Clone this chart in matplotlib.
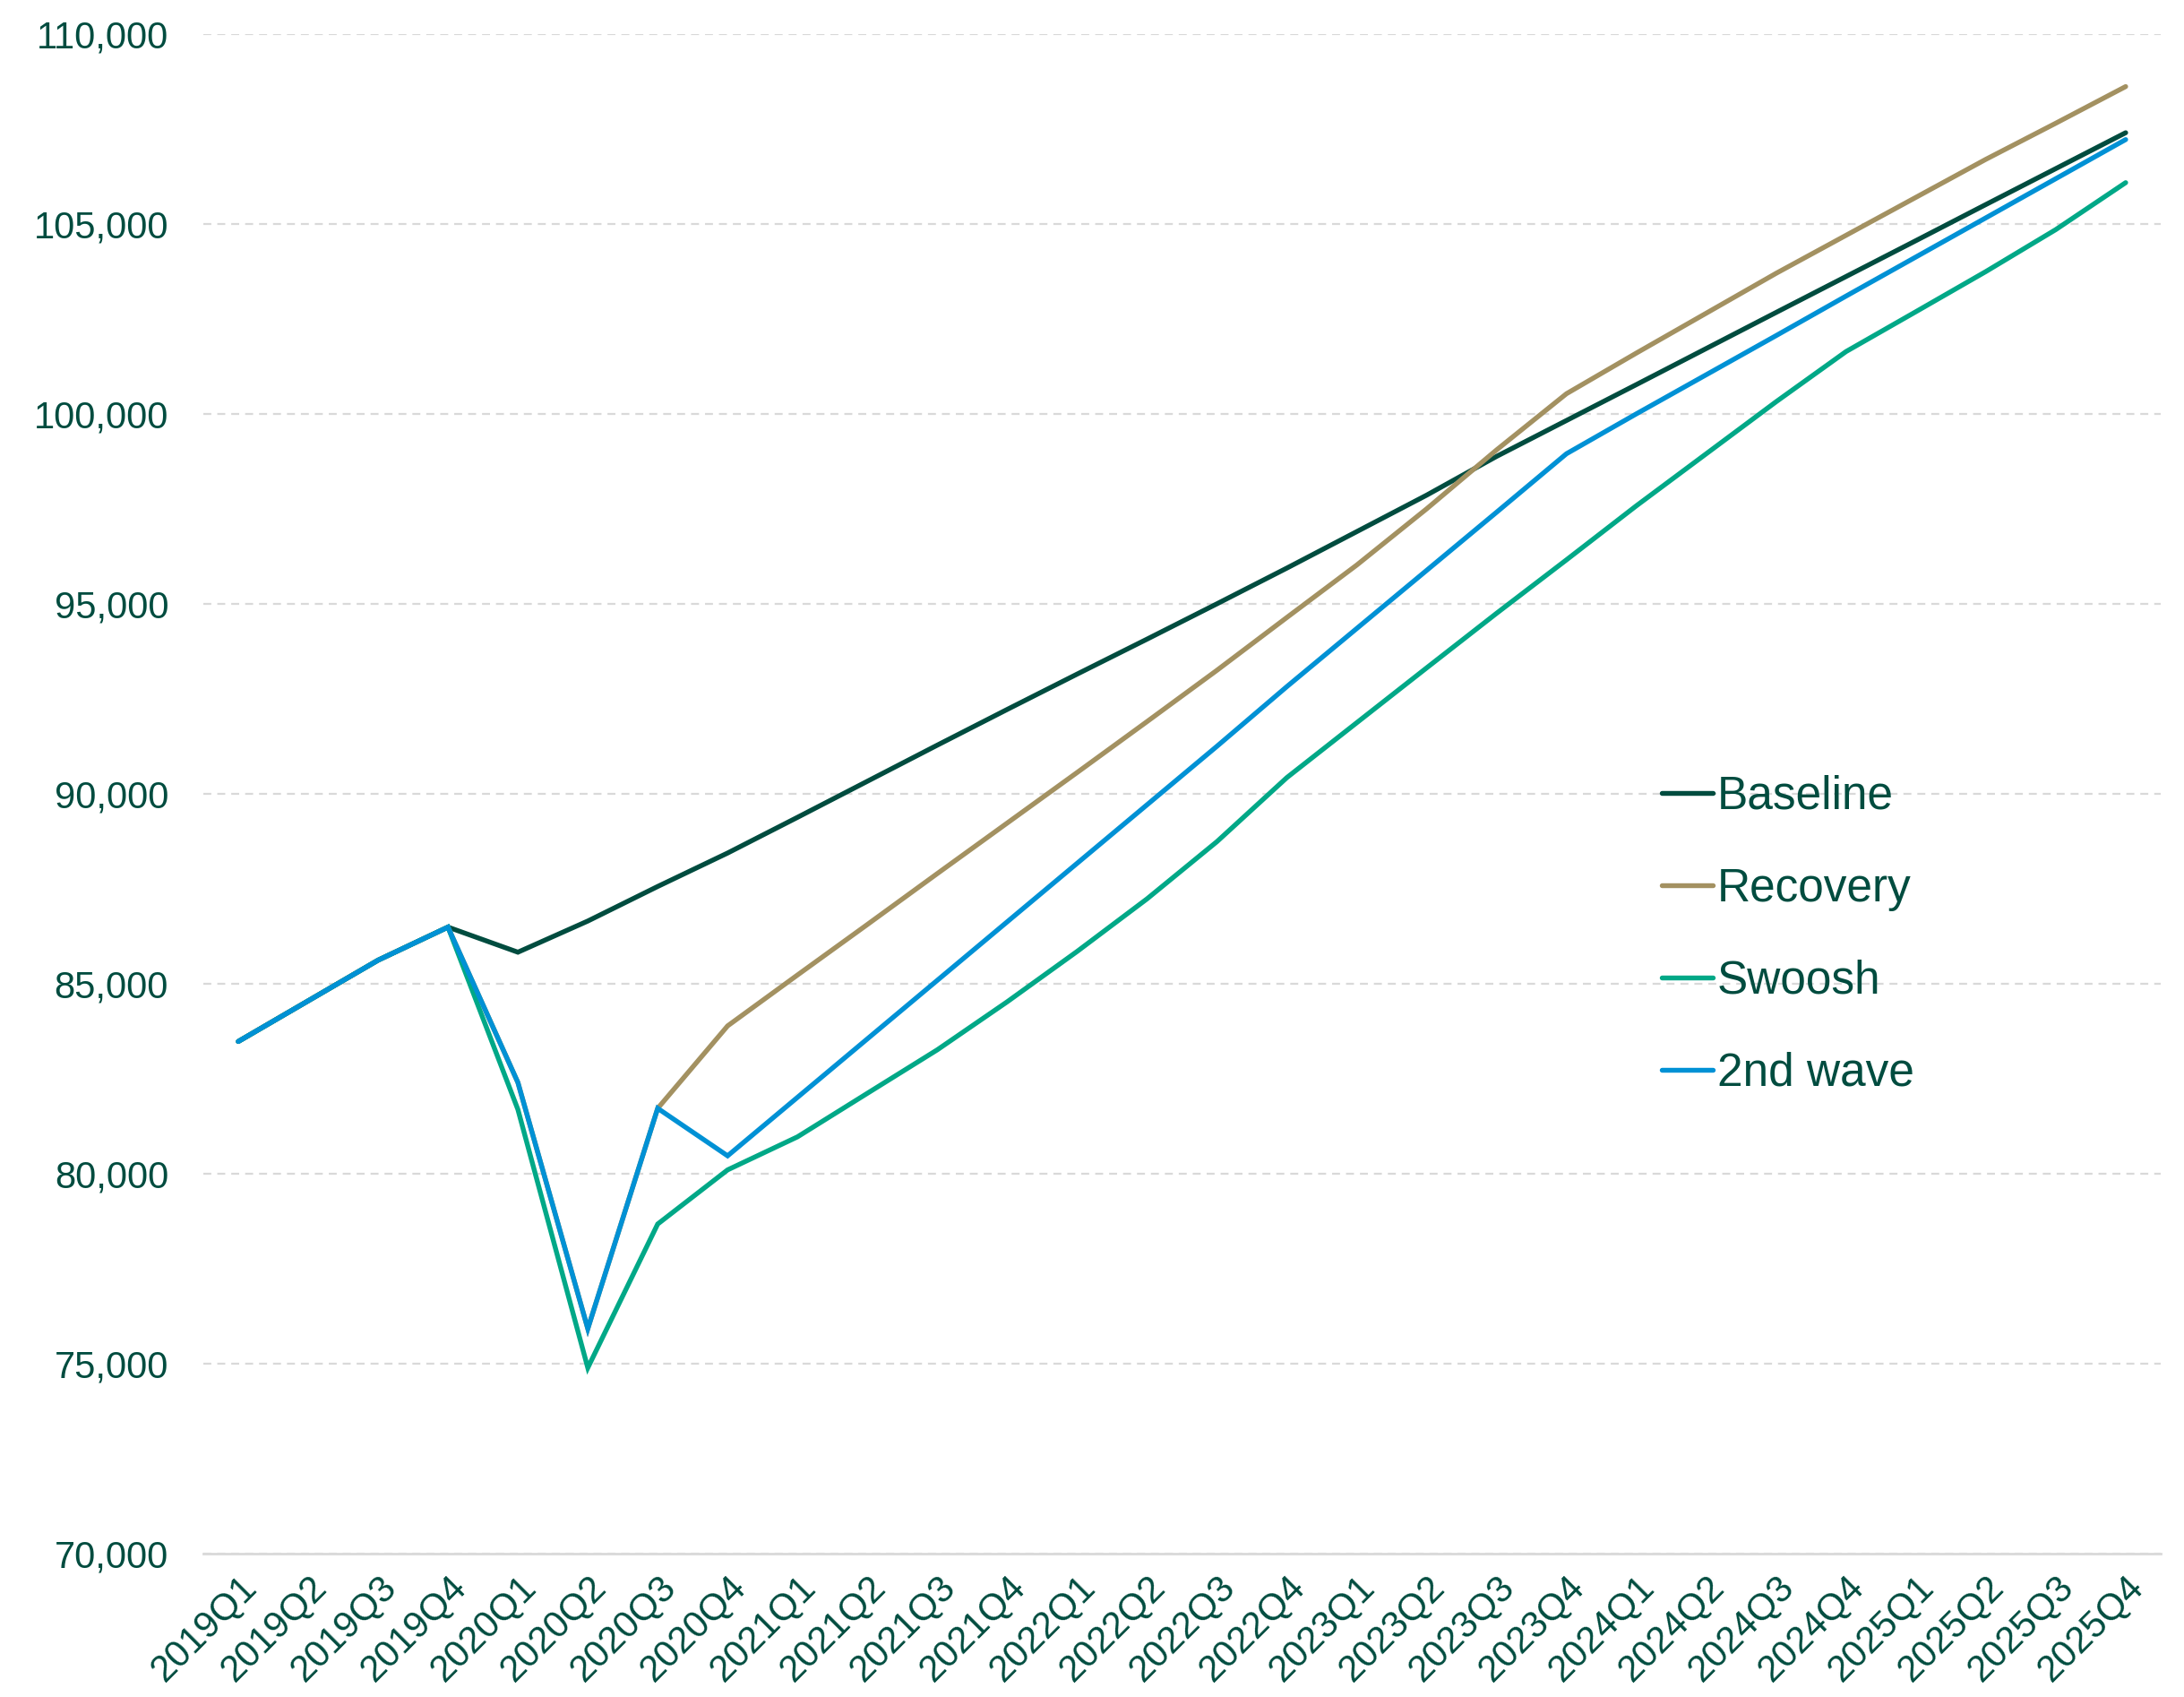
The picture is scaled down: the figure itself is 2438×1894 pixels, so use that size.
import numpy as np
import matplotlib
matplotlib.use("Agg")
import matplotlib.pyplot as plt
from matplotlib.ticker import FuncFormatter
from matplotlib.transforms import ScaledTranslation

plt.rcParams['font.family'] = ['Liberation Sans', 'DejaVu Sans']

quarters = ["2019Q1", "2019Q2", "2019Q3", "2019Q4",
            "2020Q1", "2020Q2", "2020Q3", "2020Q4",
            "2021Q1", "2021Q2", "2021Q3", "2021Q4",
            "2022Q1", "2022Q2", "2022Q3", "2022Q4",
            "2023Q1", "2023Q2", "2023Q3", "2023Q4",
            "2024Q1", "2024Q2", "2024Q3", "2024Q4",
            "2025Q1", "2025Q2", "2025Q3", "2025Q4"]

baseline = [83480, 84550, 85620, 86490, 85830, 86650, 87560, 88440,
            89380, 90330, 91280, 92220, 93150, 94070, 95000, 95940,
            96900, 97860, 98880, 99825, 100770, 101720, 102670, 103615,
            104560, 105510, 106455, 107400]
recovery = [83480, 84550, 85620, 86490, 82400, 75920, 81720, 83890,
            85230, 86560, 87900, 89230, 90560, 91900, 93250, 94640,
            96020, 97500, 99050, 100530, 101600, 102650, 103700, 104700,
            105700, 106700, 107650, 108615]
swoosh = [83480, 84550, 85620, 86490, 81690, 74890, 78675, 80100,
          80970, 82117, 83261, 84525, 85850, 87234, 88740, 90425,
          91870, 93314, 94750, 96157, 97580, 98950, 100320, 101640,
          102690, 103746, 104850, 106086]
wave2 = [83480, 84550, 85620, 86490, 82400, 75920, 81720, 80470,
         82010, 83550, 85090, 86630, 88170, 89710, 91250, 92820,
         94350, 95880, 97410, 98950, 100000, 101030, 102060, 103100,
         104130, 105160, 106190, 107220]

series = [("Baseline", baseline, "#004c3f"),
          ("Recovery", recovery, "#a39161"),
          ("Swoosh", swoosh, "#00a887"),
          ("2nd wave", wave2, "#0091d5")]

txt = "#004c3f"

fig = plt.figure(figsize=(24.38, 18.94), dpi=100)
ax = fig.add_axes([0.0931, 0.0845, 0.8962, 0.8955])

x = np.arange(len(quarters))
for name, vals, col in series:
    ax.plot(x, vals, color=col, lw=3.9, label=name, zorder=3,
            solid_capstyle='round', solid_joinstyle='miter')

ax.set_xlim(-0.5, len(quarters) - 0.5)
ax.set_ylim(70000, 110000)
ax.set_yticks(np.arange(70000, 110001, 5000))
ax.yaxis.set_major_formatter(FuncFormatter(lambda v, p: f"{int(v):,}"))

ax.set_xticks(x)
ax.set_xticklabels(quarters, rotation=45, ha='right', va='top',
                   rotation_mode='anchor')
# pull labels left so their top end sits under the tick
shift = ScaledTranslation(-0.3, 0, fig.dpi_scale_trans)
for lab in ax.get_xticklabels():
    lab.set_transform(lab.get_transform() + shift)

ax.grid(axis='y', color='#d9d9d9', lw=1.6, ls=(0, (4, 3)), zorder=0)
ax.grid(axis='x', visible=False)
for s in ['top', 'right', 'left']:
    ax.spines[s].set_visible(False)
ax.spines['bottom'].set_color('#d9d9d9')
ax.spines['bottom'].set_linewidth(2)

ax.tick_params(axis='both', length=0, labelcolor=txt)
ax.tick_params(axis='y', pad=28, labelsize=30)
ax.tick_params(axis='x', pad=12, labelsize=30)

fig.legend(loc='center left', bbox_to_anchor=(0.761, 0.449), frameon=False,
           fontsize=37, labelcolor=txt, handlelength=1.1, handletextpad=0.1,
           labelspacing=1.05, borderpad=0, borderaxespad=0)

fig.savefig("out.png", dpi=100)
